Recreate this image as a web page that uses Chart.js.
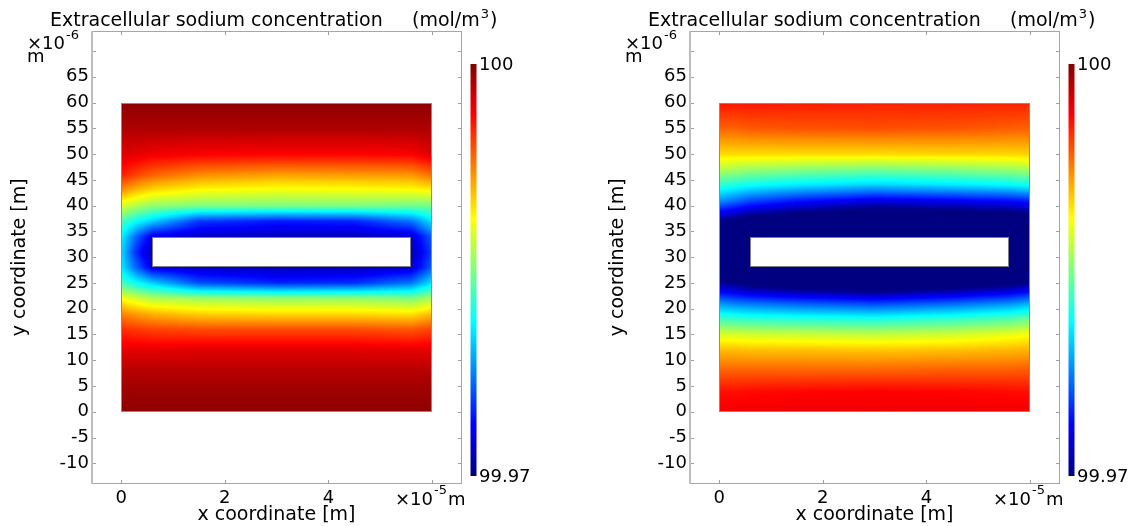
<!DOCTYPE html>
<html>
<head>
<meta charset="utf-8">
<title>Extracellular sodium concentration</title>
<script src="https://cdn.jsdelivr.net/npm/chart.js@4.4.0/dist/chart.umd.min.js"></script>
<style>
  html, body { margin: 0; padding: 0; background: #fff; }
  body { width: 1137px; height: 526px; position: relative; overflow: hidden; }
  .panel { position: absolute; top: 0; width: 539px; height: 526px; }
  #panel-a { left: 0; }
  #panel-b { left: 598px; }
</style>
</head>
<body>
<div class="panel" id="panel-a"><canvas id="chart-a" width="539" height="526"></canvas></div>
<div class="panel" id="panel-b"><canvas id="chart-b" width="539" height="526"></canvas></div>
<script>
/**
 * Concentração de sódio extracelular em torno de uma célula (2 instantes).
 * Campo desenhado por plugin a partir da malha de nós, via escalas do Chart.js.
 */
const Chart = window.Chart;
const FONT = "'DejaVu Sans', sans-serif";

// escala de cores (mol/m^3)
const C_MIN = 99.97;
const C_MAX = 100;
const CBAR_LABELS = ['100', '99.97'];

// eixos: x em 1e-5 m, y em 1e-6 m
const X_LABELLED = [0, 2, 4];
const Y_LABELLED = [-10, -5, 0, 5, 10, 15, 20, 25, 30, 35, 40, 45, 50, 55, 60, 65];

// domínio e célula (furo branco)
const DOMAIN_X = [0, 6];
const DOMAIN_Y = [0, 60];
const CELL_X = [0.6, 5.6];
const CELL_Y = [28, 34];

// nós da malha
const X_NODES = [0, 0.3, 0.6, 1.5, 3, 4.5, 5.6, 6];
const Y_NODES_A = [0, 4, 8, 12, 16, 19, 22, 25, 28, 31, 34, 37, 40, 43, 46, 50, 55, 60];
const Y_NODES_B = [0, 4, 8, 12, 15, 18, 21, 24, 28, 31, 34, 38, 41, 44, 47, 50, 55, 60];

// concentração por coluna de X_NODES, de baixo para cima (null = dentro da célula)
const NA_A = [
  [99.99955, 99.9991, 99.99835, 99.997, 99.9949, 99.99235, 99.9886, 99.9832, 99.9808, 99.9802, 99.9811, 99.9835, 99.9877, 99.99205, 99.9955, 99.9973, 99.99865, 99.99955],
  [99.99955, 99.9991, 99.99835, 99.997, 99.9946, 99.9916, 99.9874, 99.9814, 99.9766, 99.9748, 99.9766, 99.9814, 99.9865, 99.9907, 99.9943, 99.997, 99.99865, 99.99955],
  [99.99955, 99.9991, 99.99835, 99.997, 99.9943, 99.991, 99.9865, 99.9799, 99.973, 99.9715, 99.973, 99.9799, 99.9856, 99.9898, 99.9934, 99.9967, 99.99865, 99.99955],
  [99.99955, 99.9991, 99.99835, 99.99715, 99.994, 99.9901, 99.9859, 99.976, 99.9721, null, 99.9721, 99.9754, 99.985, 99.98875, 99.9922, 99.9964, 99.99865, 99.99955],
  [99.99955, 99.9991, 99.99835, 99.99715, 99.994, 99.9898, 99.9856, 99.9748, 99.9718, null, 99.9718, 99.9745, 99.985, 99.9883, 99.9916, 99.99625, 99.99865, 99.99955],
  [99.99955, 99.9991, 99.99835, 99.99715, 99.994, 99.9898, 99.9856, 99.9751, 99.9718, null, 99.9718, 99.9748, 99.985, 99.98845, 99.99175, 99.99625, 99.99865, 99.99955],
  [99.99955, 99.9991, 99.99835, 99.997, 99.9937, 99.9895, 99.985, 99.9772, 99.9724, 99.9715, 99.9724, 99.9772, 99.9847, 99.9886, 99.9919, 99.9964, 99.99865, 99.99955],
  [99.99955, 99.9991, 99.99835, 99.997, 99.9943, 99.9907, 99.9862, 99.9805, 99.9766, 99.9757, 99.9766, 99.9805, 99.9847, 99.98905, 99.9931, 99.9973, 99.99865, 99.99955],
];

const NA_B = [
  [99.9967, 99.9958, 99.9934, 99.9907, 99.9877, 99.9832, 99.9781, 99.9724, 99.9664, 99.964, 99.9655, 99.9721, 99.9781, 99.9826, 99.9865, 99.9898, 99.9934, 99.9958],
  [99.9967, 99.9958, 99.9934, 99.9907, 99.98755, 99.9829, 99.9775, 99.9718, 99.9652, 99.9625, 99.9646, 99.9712, 99.9772, 99.982, 99.9862, 99.9898, 99.9934, 99.99565],
  [99.9967, 99.99595, 99.9934, 99.99055, 99.9874, 99.9826, 99.9772, 99.9709, 99.9643, 99.961, 99.9637, 99.9703, 99.976, 99.98155, 99.98575, 99.9898, 99.9937, 99.99565],
  [99.9967, 99.9961, 99.9934, 99.99055, 99.98725, 99.9823, 99.97645, 99.97, 99.9625, null, 99.9625, 99.96895, 99.9745, 99.98065, 99.9853, 99.9898, 99.99385, 99.9955],
  [99.9967, 99.99625, 99.9934, 99.9904, 99.98695, 99.982, 99.9757, 99.9688, 99.961, null, 99.961, 99.9676, 99.973, 99.9799, 99.9847, 99.9898, 99.994, 99.99535],
  [99.9967, 99.9961, 99.99355, 99.99055, 99.9874, 99.98275, 99.97675, 99.97, 99.9619, null, 99.96145, 99.96805, 99.9736, 99.9805, 99.98515, 99.98995, 99.99385, 99.99535],
  [99.9967, 99.99595, 99.99355, 99.99085, 99.98815, 99.98365, 99.97795, 99.97135, 99.9631, 99.961, 99.96205, 99.96865, 99.9742, 99.9811, 99.98575, 99.98995, 99.99355, 99.99535],
  [99.9967, 99.9958, 99.9937, 99.991, 99.9886, 99.9844, 99.979, 99.9724, 99.964, 99.961, 99.9625, 99.9691, 99.9748, 99.9817, 99.9862, 99.9901, 99.9934, 99.99535],
];

function jet(t) {
  const v = Math.min(1, Math.max(0, t));
  const ch = (k) => Math.round(255 * Math.min(1, Math.max(0, 1.5 - Math.abs(4 * v - k))));
  return [ch(3), ch(2), ch(1)];
}

function nodeIndex(nodes, v) {
  let k = 0;
  while (k < nodes.length - 2 && v >= nodes[k + 1]) k++;
  return k;
}

function sampleConc(xs, ys, grid, xv, yv) {
  const i = nodeIndex(xs, xv);
  const j = nodeIndex(ys, yv);
  const tx = Math.min(1, Math.max(0, (xv - xs[i]) / (xs[i + 1] - xs[i])));
  const ty = Math.min(1, Math.max(0, (yv - ys[j]) / (ys[j + 1] - ys[j])));
  const corners = [
    [grid[i][j], (1 - tx) * (1 - ty)],
    [grid[i + 1][j], tx * (1 - ty)],
    [grid[i][j + 1], (1 - tx) * ty],
    [grid[i + 1][j + 1], tx * ty],
  ];
  let sum = 0;
  let wsum = 0;
  corners.forEach(([c, w]) => {
    if (c != null) { sum += c * w; wsum += w; }
  });
  return wsum > 0 ? sum / wsum : null;
}

// retângulo em pixels inteiros a partir de limites em unidades de dados
function pixelBox(chart, xr, yr) {
  const { x, y } = chart.scales;
  const l = Math.round(x.getPixelForValue(xr[0]));
  const r = Math.round(x.getPixelForValue(xr[1]));
  const t = Math.round(y.getPixelForValue(yr[1]));
  const b = Math.round(y.getPixelForValue(yr[0]));
  return { l, r, t, b, w: r - l, h: b - t };
}

// rasteriza o campo uma vez por gráfico
function renderField(chart) {
  const ds = chart.data.datasets[0];
  const { x, y } = chart.scales;
  const box = pixelBox(chart, DOMAIN_X, DOMAIN_Y);
  const off = document.createElement('canvas');
  off.width = box.w;
  off.height = box.h;
  const octx = off.getContext('2d');
  const img = octx.createImageData(box.w, box.h);
  for (let jj = 0; jj < box.h; jj++) {
    const yv = Math.min(DOMAIN_Y[1], Math.max(DOMAIN_Y[0], y.getValueForPixel(box.t + jj + 0.5)));
    for (let ii = 0; ii < box.w; ii++) {
      const xv = Math.min(DOMAIN_X[1], Math.max(DOMAIN_X[0], x.getValueForPixel(box.l + ii + 0.5)));
      const c = sampleConc(ds.xNodes, ds.yNodes, ds.grid, xv, yv);
      if (c == null) continue;
      const [R, G, B] = jet((c - C_MIN) / (C_MAX - C_MIN));
      const p = (jj * box.w + ii) * 4;
      img.data[p] = R;
      img.data[p + 1] = G;
      img.data[p + 2] = B;
      img.data[p + 3] = 255;
    }
  }
  octx.putImageData(img, 0, 0);
  return { img: off, l: box.l, t: box.t };
}

const fieldPlugin = {
  id: 'naField',
  beforeDatasetsDraw(chart) {
    if (!chart.$field) chart.$field = renderField(chart);
    const f = chart.$field;
    const { ctx } = chart;
    ctx.drawImage(f.img, f.l, f.t);

    // célula: furo branco com contorno fino
    const cell = pixelBox(chart, CELL_X, CELL_Y);
    ctx.save();
    ctx.fillStyle = '#fff';
    ctx.fillRect(cell.l, cell.t, cell.w, cell.h);
    ctx.lineWidth = 1;
    ctx.strokeStyle = '#7c7c8c';
    ctx.strokeRect(cell.l + 0.5, cell.t + 0.5, cell.w - 1, cell.h - 1);

    // contorno do domínio
    const dom = pixelBox(chart, DOMAIN_X, DOMAIN_Y);
    ctx.strokeStyle = '#8c8c8c';
    ctx.strokeRect(dom.l + 0.5, dom.t + 0.5, dom.w - 1, dom.h - 1);
    ctx.restore();
  },
};

const framePlugin = {
  id: 'naFrame',
  afterDatasetsDraw(chart) {
    const { ctx, chartArea: a, scales: { x, y } } = chart;
    ctx.save();

    // moldura dos eixos
    const L = Math.round(a.left);
    const R = Math.round(a.right);
    const T = Math.round(a.top);
    const B = Math.round(a.bottom);
    ctx.lineWidth = 1;
    ctx.strokeStyle = '#a6a6a6';
    ctx.beginPath();
    ctx.moveTo(L, T + 0.5); ctx.lineTo(R, T + 0.5);
    ctx.moveTo(R - 0.5, T); ctx.lineTo(R - 0.5, B);
    ctx.moveTo(L, B - 0.5); ctx.lineTo(R, B - 0.5);
    ctx.stroke();
    ctx.lineWidth = 2;
    ctx.strokeStyle = '#bdbdbd';
    ctx.beginPath();
    ctx.moveTo(L + 1, T); ctx.lineTo(L + 1, B);
    ctx.stroke();

    // marcas internas
    ctx.lineWidth = 1;
    ctx.strokeStyle = '#a0a0a0';
    ctx.beginPath();
    x.ticks.forEach((tk) => {
      const px = Math.round(x.getPixelForValue(tk.value)) + 0.5;
      ctx.moveTo(px, T); ctx.lineTo(px, T + 4);
      ctx.moveTo(px, B); ctx.lineTo(px, B - 4);
    });
    y.ticks.forEach((tk) => {
      const py = Math.round(y.getPixelForValue(tk.value)) + 0.5;
      ctx.moveTo(L + 2, py); ctx.lineTo(L + 5, py);
      ctx.moveTo(R, py); ctx.lineTo(R - 4, py);
    });
    ctx.stroke();
    ctx.restore();
  },
  afterDraw(chart) {
    const { ctx, chartArea: a } = chart;
    ctx.save();
    ctx.fillStyle = '#000';
    ctx.textAlign = 'left';
    ctx.textBaseline = 'alphabetic';

    // título
    ctx.font = `19px ${FONT}`;
    ctx.fillText('Extracellular sodium concentration', 50, 26);
    const unit = '(mol/m';
    ctx.fillText(unit, 412, 26);
    let ux = 412 + ctx.measureText(unit).width + 1;
    ctx.font = `13px ${FONT}`;
    ctx.fillText('3', ux, 18);
    ux += ctx.measureText('3').width + 1;
    ctx.font = `19px ${FONT}`;
    ctx.fillText(')', ux, 26);

    // fator de escala do eixo y
    ctx.font = `18px ${FONT}`;
    ctx.fillText('\u00d710', 27, 49);
    let sx = 27 + ctx.measureText('\u00d710').width + 1;
    ctx.font = `13px ${FONT}`;
    ctx.fillText('-6', sx, 39);
    ctx.font = `18px ${FONT}`;
    ctx.fillText('m', 27, 62);

    // fator de escala do eixo x
    ctx.fillText('\u00d710', 395, 505);
    sx = 395 + ctx.measureText('\u00d710').width + 1;
    ctx.font = `13px ${FONT}`;
    ctx.fillText('-5', sx, 494);
    sx += ctx.measureText('-5').width + 1;
    ctx.font = `18px ${FONT}`;
    ctx.fillText('m', sx, 505);

    // títulos dos eixos
    ctx.font = `19px ${FONT}`;
    ctx.textAlign = 'center';
    ctx.fillText('x coordinate [m]', (a.left + a.right) / 2, 520);
    ctx.save();
    ctx.translate(25, (a.top + a.bottom) / 2);
    ctx.rotate(-Math.PI / 2);
    ctx.fillText('y coordinate [m]', 0, 0);
    ctx.restore();

    // barra de cores
    const bx = a.right + 8.5;
    const bw = 6;
    const btop = 64;
    const bbot = 476;
    const grad = ctx.createLinearGradient(0, bbot, 0, btop);
    for (let k = 0; k <= 8; k++) {
      const [R, G, B] = jet(k / 8);
      grad.addColorStop(k / 8, `rgb(${R},${G},${B})`);
    }
    ctx.fillStyle = grad;
    ctx.fillRect(bx, btop, bw, bbot - btop);
    ctx.fillStyle = '#000';
    ctx.font = `18px ${FONT}`;
    ctx.textAlign = 'left';
    ctx.textBaseline = 'middle';
    ctx.fillText(CBAR_LABELS[0], bx + bw + 2.5, btop + 1);
    ctx.fillText(CBAR_LABELS[1], bx + bw + 2.5, bbot + 1);
    ctx.restore();
  },
};

function makePanel(canvasId, yNodes, grid) {
  const canvas = document.getElementById(canvasId);
  const nodes = [];
  X_NODES.forEach((xv, i) => {
    yNodes.forEach((yv, j) => {
      if (grid[i][j] != null) nodes.push({ x: xv, y: yv, c: grid[i][j] });
    });
  });
  return new Chart(canvas, {
    type: 'scatter',
    data: {
      datasets: [{
        label: 'Na+',
        data: nodes,
        pointRadius: 0,
        xNodes: X_NODES,
        yNodes,
        grid,
      }],
    },
    options: {
      responsive: false,
      animation: false,
      events: [],
      layout: { padding: { left: 0, top: 30.7, right: 77, bottom: 0 } },
      plugins: { legend: { display: false }, tooltip: { enabled: false } },
      scales: {
        x: {
          type: 'linear',
          min: -0.583,
          max: 6.579,
          afterFit(s) { s.height = 42; },
          grid: { display: false, drawTicks: false },
          border: { display: false },
          ticks: {
            stepSize: 2,
            includeBounds: false,
            maxRotation: 0,
            padding: 4,
            color: '#000',
            font: { family: FONT, size: 18 },
            callback: (v) => (X_LABELLED.includes(v) ? String(v) : ''),
          },
        },
        y: {
          type: 'linear',
          min: -14.0,
          max: 73.93,
          afterFit(s) { s.width = 91; },
          grid: { display: false, drawTicks: false },
          border: { display: false },
          ticks: {
            stepSize: 5,
            includeBounds: false,
            autoSkip: false,
            padding: 2,
            color: '#000',
            font: { family: FONT, size: 18 },
            callback: (v) => (Y_LABELLED.includes(v) ? String(v) : ''),
          },
        },
      },
    },
    plugins: [fieldPlugin, framePlugin],
  });
}

makePanel('chart-a', Y_NODES_A, NA_A);
makePanel('chart-b', Y_NODES_B, NA_B);
</script>
</body>
</html>
